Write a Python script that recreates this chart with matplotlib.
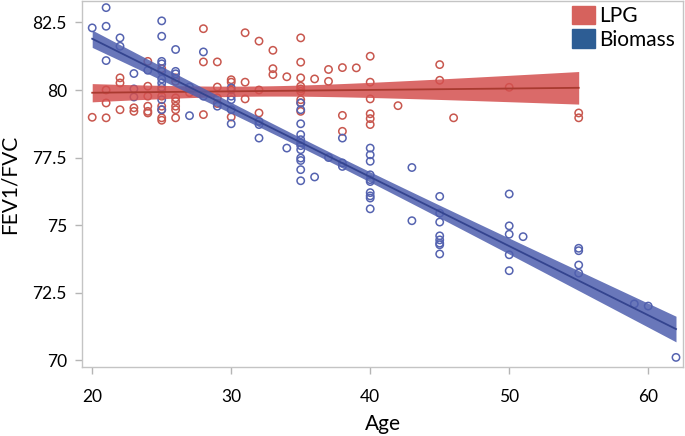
import numpy as np
import matplotlib
matplotlib.use("Agg")
import matplotlib.pyplot as plt
from matplotlib.patches import Patch

plt.rcParams['font.family'] = ['Lato', 'DejaVu Sans']

# Dữ liệu: tuổi và FEV1/FVC
lpg_age = [20, 21, 21, 21, 22, 22, 22, 23, 23,
           24, 24, 24, 24, 24, 24,
           25, 25, 25, 25, 25, 25, 25,
           26, 26, 26, 26, 26, 26, 26,
           27, 28, 28, 28, 29, 29, 29, 29,
           30, 30, 30, 30, 31, 31, 31, 32, 32, 32,
           33, 33, 33, 34,
           35, 35, 35, 35, 35, 35, 35, 35, 35,
           36, 37, 37, 38, 38, 38, 39,
           40, 40, 40, 40, 40, 40,
           42, 45, 45, 46, 50, 55, 55]
lpg_val = [78.99, 80.0, 79.52, 78.97, 80.45, 80.26, 79.27, 79.34, 79.21,
           81.06, 80.14, 79.77, 79.4, 79.21, 79.15,
           80.79, 80.0, 79.77, 79.4, 79.27, 78.97, 78.88,
           80.45, 80.32, 79.71, 79.58, 79.4, 79.27, 78.97,
           79.9, 82.27, 81.04, 79.09, 81.04, 80.11, 79.71, 79.5,
           80.38, 80.29, 80.0, 79.0, 82.12, 80.29, 79.67, 81.81, 80.0, 79.15,
           81.47, 80.79, 80.57, 80.49,
           81.93, 81.03, 80.45, 80.14, 80.04, 79.95, 79.64, 79.53, 79.21,
           80.41, 80.76, 80.32, 80.83, 79.06, 78.47, 80.82,
           81.25, 80.29, 79.67, 79.12, 78.94, 78.72,
           79.42, 80.94, 80.36, 78.97, 80.1, 79.15, 78.97]

bio_age = [20, 21, 21, 21, 22, 22, 23, 23, 23, 24,
           25, 25, 25, 25, 25, 25, 25, 25, 25, 25,
           26, 26, 26, 27, 27, 28, 28, 29,
           30, 30, 30, 30, 30, 32, 32, 32, 34,
           35, 35, 35, 35, 35, 35, 35, 35, 35, 35, 35, 35,
           36, 37, 38, 38, 38,
           40, 40, 40, 40, 40, 40, 40, 40, 40, 40,
           43, 43, 45, 45, 45, 45, 45, 45, 45, 45,
           50, 50, 50, 50, 50, 51, 55, 55, 55, 55, 59, 60, 62]
bio_val = [82.3, 83.05, 82.36, 81.09, 81.93, 81.62, 80.61, 80.04, 79.74, 80.73,
           82.56, 81.99, 81.06, 80.97, 80.69, 80.41, 80.26, 80.1, 79.64, 79.27,
           81.5, 80.69, 80.6, 80.11, 79.05, 81.41, 79.77, 79.4,
           80.08, 79.77, 79.64, 79.27, 78.75, 78.84, 78.72, 78.22, 77.85,
           79.52, 79.27, 78.75, 78.35, 78.16, 78.04, 77.94, 77.79, 77.48, 77.39, 77.05, 76.64,
           76.78, 77.5, 78.22, 77.3, 77.17,
           77.85, 77.6, 77.36, 76.86, 76.68, 76.61, 76.2, 76.08, 76.0, 75.6,
           77.13, 75.16, 76.06, 75.44, 75.11, 74.6, 74.45, 74.33, 74.27, 73.93,
           76.15, 74.97, 74.66, 73.9, 73.31, 74.57, 74.14, 74.05, 73.52, 73.22, 72.08, 72.0, 70.1]

red_pt = '#c8574e'
red_band = '#d4504f'
red_line = '#a93a30'
blue_pt = '#5563b0'
blue_band = '#4f5fae'
blue_line = '#34448f'


def fit_band(x, y):
    # Hồi quy tuyến tính + khoảng tin cậy 95%
    x = np.asarray(x, float)
    y = np.asarray(y, float)
    n = len(x)
    b, a = np.polyfit(x, y, 1)
    resid = y - (a + b * x)
    s = np.sqrt(np.sum(resid ** 2) / (n - 2))
    sxx = np.sum((x - x.mean()) ** 2)
    xs = np.linspace(x.min(), x.max(), 200)
    ys = a + b * xs
    se = s * np.sqrt(1 / n + (xs - x.mean()) ** 2 / sxx)
    return xs, ys, 1.99 * se


fig = plt.figure(figsize=(6.85, 4.36), dpi=100)
ax = fig.add_axes([0.12, 0.158, 0.877, 0.84])

ax.scatter(lpg_age, lpg_val, s=28, facecolors='none', edgecolors=red_pt, linewidths=1.1, zorder=2)
ax.scatter(bio_age, bio_val, s=28, facecolors='none', edgecolors=blue_pt, linewidths=1.1, zorder=2)

xs, ys, ci = fit_band(lpg_age, lpg_val)
ax.fill_between(xs, ys - ci, ys + ci, color=red_band, alpha=0.85, lw=0, zorder=3)
ax.plot(xs, ys, color=red_line, lw=1.3, zorder=4)

xs, ys, ci = fit_band(bio_age, bio_val)
ax.fill_between(xs, ys - ci, ys + ci, color=blue_band, alpha=0.85, lw=0, zorder=5)
ax.plot(xs, ys, color=blue_line, lw=1.3, zorder=6)

ax.set_xlim(19.28, 62.5)
ax.set_ylim(69.74, 83.3)
ax.set_xticks([20, 30, 40, 50, 60])
ax.set_yticks([70, 72.5, 75, 77.5, 80, 82.5])
ax.set_yticklabels(['70', '72.5', '75', '77.5', '80', '82.5'])
ax.tick_params(labelsize=12.5, color='#b5b5b5', length=5, width=1)
ax.tick_params(axis='x', pad=11)
ax.tick_params(axis='y', pad=6)
for sp in ax.spines.values():
    sp.set_color('#c4c4c4')
    sp.set_linewidth(1)

ax.set_xlabel('Age', fontsize=15, labelpad=6)
ax.set_ylabel('FEV1/FVC', fontsize=15, labelpad=9)

handles = [Patch(facecolor='#d6625d', edgecolor='#d6625d'),
           Patch(facecolor='#2d5d94', edgecolor='#2d5d94')]
ax.legend(handles, ['LPG', 'Biomass'], loc='upper right', frameon=False, fontsize=15,
          handlelength=1.1, handleheight=1.0, handletextpad=0.2, labelspacing=0.15,
          borderaxespad=0.0, bbox_to_anchor=(1.0, 1.01))

fig.savefig('out.png', dpi=100)
